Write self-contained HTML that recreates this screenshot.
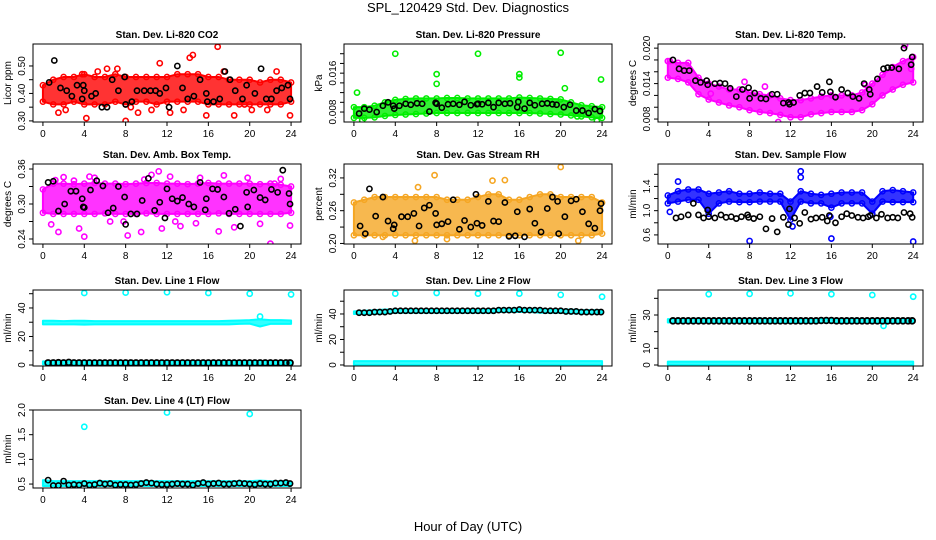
<!DOCTYPE html>
<html><head><meta charset="utf-8"><style>
body{margin:0;background:#fff;}
svg{display:block;font-family:"Liberation Sans",sans-serif;}
</style></head><body>
<svg id="chart" width="936" height="540" xmlns="http://www.w3.org/2000/svg">
<rect width="936" height="540" fill="#fff"/>
<text x="468" y="12" text-anchor="middle" font-size="13">SPL_120429  Std. Dev. Diagnostics</text>
<text x="468" y="531" text-anchor="middle" font-size="13">Hour of Day (UTC)</text>
</svg>
<script>
// ---------- data ----------
const hours = [0,1,2,3,4,5,6,7,8,9,10,11,12,13,14,15,16,17,18,19,20,21,22,23,24];
const xTicks = [0,4,8,12,16,20,24];

// CO2
const co2Lo = [0.37,0.36,0.36,0.37,0.36,0.36,0.36,0.37,0.36,0.37,0.37,0.36,0.37,0.37,0.37,0.37,0.36,0.36,0.36,0.36,0.36,0.36,0.36,0.36,0.37];
const co2Hi = [0.43,0.45,0.46,0.46,0.47,0.46,0.46,0.47,0.46,0.46,0.46,0.46,0.46,0.47,0.47,0.47,0.46,0.46,0.45,0.45,0.45,0.44,0.45,0.45,0.44];
const co2OutT = [1.5,2.2,3.8,4.2,5.3,6.2,7.2,8,8.5,9.2,10.5,11.3,12.3,13.6,14.2,14.5,15.8,16.9,17.5,18.5,19.5,20.2,21.7,22.6,23.9];
const co2OutV = [0.33,0.34,0.47,0.31,0.48,0.49,0.49,0.30,0.35,0.33,0.34,0.51,0.33,0.34,0.53,0.54,0.32,0.57,0.48,0.32,0.36,0.34,0.34,0.48,0.32];
const co2BlkT = [0.6,1.1,1.7,2.3,2.8,3.3,3.8,3.9,4.0,4.7,5.1,5.7,6.2,6.7,7.3,7.9,8.0,8.6,9.1,9.8,10.4,10.9,11.3,11.9,12.2,13.0,13.5,14.0,14.6,15.2,15.8,15.9,16.5,17.1,17.6,18.1,18.6,19.3,19.7,20.5,21.1,21.6,22.1,22.6,23.1,23.7,23.9];
const co2BlkV = [0.44,0.52,0.42,0.41,0.39,0.43,0.38,0.43,0.41,0.39,0.40,0.35,0.35,0.45,0.41,0.46,0.36,0.37,0.41,0.41,0.41,0.41,0.40,0.42,0.35,0.50,0.42,0.38,0.39,0.45,0.40,0.37,0.37,0.38,0.48,0.45,0.41,0.38,0.43,0.40,0.49,0.38,0.38,0.41,0.42,0.43,0.38];
const co2Ticks = [0.30,0.35,0.40,0.45,0.50];
const co2Labels = ["0.30","","0.40","","0.50"];

// Pressure
const prLo = [0.0068,0.0068,0.0069,0.0072,0.0074,0.0075,0.0076,0.0077,0.0078,0.0078,0.0078,0.0078,0.0078,0.0078,0.0078,0.0078,0.0078,0.0078,0.0077,0.0076,0.0075,0.0073,0.0071,0.0069,0.0068];
const prHi = [0.0090,0.0090,0.0093,0.0100,0.0105,0.0107,0.0108,0.0108,0.0108,0.0109,0.0109,0.0108,0.0108,0.0108,0.0108,0.0108,0.0110,0.0109,0.0108,0.0107,0.0106,0.0100,0.0094,0.0092,0.0090];
const prOutT = [0.3,4.0,8.0,8.0,12.0,16.0,16.0,20.0,20.4,23.9,0.8,23.5,21.6];
const prOutV = [0.0120,0.0200,0.0158,0.0138,0.0200,0.0158,0.0151,0.0202,0.0129,0.0147,0.0063,0.0062,0.0071];
const prBlkT = [0.5,1.0,1.5,2.2,2.8,3.3,3.8,3.9,4.4,5.0,5.5,6.1,6.6,7.3,7.9,8.0,8.5,9.1,9.6,10.2,10.7,11.3,11.9,12.0,12.4,13.0,13.5,14.0,14.6,15.1,15.8,15.9,16.5,17.0,17.5,18.2,18.7,19.2,19.6,20.3,20.9,21.5,22.1,22.7,23.3,23.8];
const prBlkV = [0.0077,0.0087,0.0085,0.0080,0.0093,0.0100,0.0093,0.0087,0.0093,0.0097,0.0095,0.0098,0.0097,0.0081,0.0099,0.0097,0.0089,0.0096,0.0097,0.0095,0.0101,0.0094,0.0096,0.0097,0.0096,0.0099,0.0090,0.0099,0.0097,0.0098,0.0090,0.0101,0.0087,0.0099,0.0094,0.0097,0.0098,0.0096,0.0095,0.0090,0.0095,0.0083,0.0083,0.0078,0.0086,0.0082];
const prTicks = [0.008,0.010,0.012,0.014,0.016,0.018,0.020];
const prLabels = ["0.008","","","","0.016","",""];

// Li-820 Temp
const ltLo = [0.0150,0.0148,0.0142,0.0122,0.0113,0.0108,0.0103,0.0100,0.0095,0.0092,0.0090,0.0087,0.0083,0.0083,0.0088,0.0090,0.0092,0.0092,0.0092,0.0095,0.0105,0.0120,0.0130,0.0138,0.0142];
const ltHi = [0.0178,0.0175,0.0175,0.0150,0.0140,0.0135,0.0130,0.0130,0.0125,0.0122,0.0120,0.0115,0.0112,0.0112,0.0115,0.0118,0.0120,0.0120,0.0120,0.0125,0.0140,0.0155,0.0168,0.0178,0.0185];
const ltOutT = [10.8,4.2,7.5,9.5,13,19.3,23.2,23.8,0.2];
const ltOutV = [0.0075,0.0123,0.0143,0.0135,0.0112,0.0138,0.0205,0.0165,0.0178];
const ltBlkT = [0.5,1.1,1.6,2.1,2.7,3.2,3.8,3.9,4.6,5.1,5.6,6.1,6.7,7.3,7.9,8.0,8.5,9.1,9.6,10.2,10.7,11.3,11.8,11.9,12.3,12.9,13.4,13.9,14.6,15.1,15.8,15.9,16.4,17.0,17.6,18.1,18.7,19.2,19.7,19.8,20.5,21.1,21.5,21.9,22.6,23.1,23.8,23.9];
const ltBlkV = [0.0180,0.0165,0.0162,0.0162,0.0145,0.0142,0.0145,0.0138,0.0140,0.0141,0.0140,0.0132,0.0118,0.0130,0.0133,0.0115,0.0124,0.0115,0.0114,0.0122,0.0122,0.0107,0.0108,0.0105,0.0108,0.0120,0.0124,0.0124,0.0135,0.0125,0.0143,0.0126,0.0117,0.0130,0.0124,0.0118,0.0115,0.0140,0.0130,0.0122,0.0148,0.0165,0.0167,0.0167,0.0165,0.0200,0.0172,0.0185];
const ltTicks = [0.008,0.010,0.012,0.014,0.016,0.018,0.020];
const ltLabels = ["0.008","","","0.014","","","0.020"];

// Amb box temp
const abLo = [0.285,0.283,0.283,0.283,0.283,0.283,0.284,0.283,0.283,0.283,0.284,0.283,0.283,0.283,0.283,0.283,0.283,0.284,0.283,0.283,0.283,0.283,0.283,0.283,0.285];
const abHi = [0.325,0.335,0.335,0.334,0.335,0.336,0.335,0.335,0.334,0.335,0.336,0.336,0.335,0.335,0.334,0.335,0.336,0.335,0.335,0.335,0.335,0.334,0.335,0.333,0.330];
const abOutT = [0.8,1.5,2.0,3.5,4.0,4.5,5.0,6.5,7.8,8.2,9.5,10.5,11.2,11.5,12.3,13.3,14.8,15.2,17.0,17.5,18.5,19.8,21.0,22.0,22.4,23.0,23.9,1.2,3.0,9.8,12.8];
const abOutV = [0.265,0.252,0.346,0.258,0.244,0.347,0.345,0.270,0.270,0.246,0.252,0.350,0.356,0.258,0.347,0.262,0.267,0.345,0.253,0.349,0.260,0.345,0.266,0.232,0.335,0.343,0.263,0.341,0.340,0.342,0.270];
const abBlkT = [0.5,1.0,1.5,2.1,2.7,3.2,3.8,3.9,4.0,4.6,5.2,5.8,6.3,6.8,7.3,7.9,8.0,8.5,9.1,9.6,10.2,10.8,11.3,11.8,12.0,12.5,13.0,13.5,14.1,14.6,15.2,15.7,15.8,16.4,16.9,17.5,18.0,18.6,19.1,19.7,19.8,20.4,21.0,21.5,22.1,22.7,23.2,23.8,23.9];
const abBlkV = [0.337,0.339,0.288,0.300,0.322,0.322,0.309,0.295,0.294,0.324,0.340,0.331,0.285,0.293,0.330,0.312,0.265,0.283,0.283,0.306,0.344,0.289,0.303,0.276,0.326,0.309,0.305,0.311,0.300,0.295,0.337,0.290,0.309,0.326,0.325,0.312,0.284,0.291,0.262,0.320,0.295,0.324,0.311,0.307,0.325,0.320,0.358,0.318,0.300];
const abTicks = [0.24,0.27,0.30,0.33,0.36];
const abLabels = ["0.24","","0.30","","0.36"];

// Gas stream RH
const rhLo = [0.215,0.215,0.215,0.215,0.215,0.215,0.215,0.215,0.215,0.215,0.215,0.215,0.215,0.215,0.215,0.215,0.215,0.215,0.215,0.215,0.215,0.215,0.215,0.215,0.218];
const rhHi = [0.275,0.280,0.285,0.285,0.285,0.285,0.285,0.285,0.285,0.280,0.280,0.280,0.285,0.290,0.290,0.280,0.280,0.285,0.290,0.290,0.285,0.285,0.285,0.285,0.275];
const rhOutT = [5.9,7.8,6.2,13.4,14.6,20.0,21.7,9.0,2.8];
const rhOutV = [0.205,0.325,0.303,0.315,0.316,0.340,0.205,0.208,0.212];
const rhBlkT = [0.6,1.1,1.5,2.1,2.8,3.3,3.8,3.9,4.6,5.2,5.8,6.3,6.8,7.3,7.9,8.0,8.5,9.1,9.6,10.2,10.7,11.3,11.8,11.9,12.4,13.0,13.5,14.0,14.6,15.0,15.6,15.8,16.5,17.0,17.5,18.1,18.7,19.2,19.7,19.8,20.4,21.0,21.5,22.1,22.7,23.3,23.8,23.9];
const rhBlkV = [0.232,0.218,0.300,0.250,0.285,0.241,0.227,0.234,0.249,0.249,0.255,0.232,0.265,0.270,0.255,0.234,0.236,0.240,0.280,0.226,0.242,0.230,0.290,0.237,0.233,0.277,0.241,0.240,0.275,0.213,0.214,0.258,0.212,0.263,0.237,0.221,0.264,0.285,0.277,0.218,0.249,0.278,0.281,0.258,0.236,0.228,0.260,0.273];
const rhTicks = [0.20,0.23,0.26,0.29,0.32];
const rhLabels = ["0.20","","0.26","","0.32"];

// Sample flow
const sfLo = [1.12,1.15,1.18,1.18,0.95,1.12,1.15,1.14,1.14,1.15,1.15,1.15,0.85,1.15,1.12,1.12,1.05,1.12,1.12,1.12,0.95,1.15,1.14,1.14,1.14];
const sfHi = [1.25,1.32,1.35,1.35,1.28,1.30,1.32,1.28,1.28,1.30,1.28,1.28,1.15,1.32,1.28,1.26,1.28,1.30,1.30,1.30,1.15,1.32,1.34,1.32,1.30];
const sfOutT = [8,16,24,13,13,12.2,1.0,0.2,15.9];
const sfOutV = [0.50,0.54,0.49,1.65,1.55,0.74,1.48,0.98,0.90];
const sfBlkT = [0.8,1.3,2.0,2.5,3.0,3.5,3.9,4.0,4.6,5.2,5.7,6.2,6.7,7.2,7.8,7.9,8.4,9.0,9.6,10.2,10.7,11.3,11.8,11.9,12.4,12.9,13.4,14.0,14.5,15.1,15.6,15.8,16.4,17.0,17.5,18.0,18.6,19.1,19.6,19.8,20.4,20.9,21.5,22.0,22.5,23.1,23.7,23.9];
const sfBlkV = [0.88,0.90,0.93,1.12,0.93,0.88,1.01,0.90,0.88,0.93,0.89,0.90,0.87,0.90,0.93,0.89,0.87,0.90,0.70,0.87,0.65,0.89,0.77,1.03,0.88,0.79,0.97,0.86,0.88,0.89,0.83,0.92,0.80,0.90,0.95,0.92,0.89,0.88,0.90,0.92,0.88,0.94,0.88,0.89,0.88,0.97,0.95,0.89];
const sfTicks = [0.6,0.8,1.0,1.2,1.4,1.6];
const sfLabels = ["0.6","","1.0","","1.4",""];

const halfHours = [0.5,1,1.5,2,2.5,3,3.5,4,4.5,5,5.5,6,6.5,7,7.5,8,8.5,9,9.5,10,10.5,11,11.5,12,12.5,13,13.5,14,14.5,15,15.5,16,16.5,17,17.5,18,18.5,19,19.5,20,20.5,21,21.5,22,22.5,23,23.5,23.9];

const l1Lo = [28.5,28.5,28.5,28.5,28.3,28.5,28.5,28.5,28.5,28.5,28.5,28.5,28.5,28.5,28.5,28.5,28.5,28.5,28.5,28.8,29,27,28.8,28.8,28.8];
const l1Hi = [31,31,30.8,31,31,30.8,30.8,30.8,30.8,30.8,30.8,30.8,30.8,30.8,30.8,30.8,30.8,30.8,31,31.2,31.5,32,31.5,31.5,31.2];
const l1BaseLo = [0.5,0.5,0.5,0.5,0.5,0.5,0.5,0.5,0.5,0.5,0.5,0.5,0.5,0.5,0.5,0.5,0.5,0.5,0.5,0.5,0.5,0.5,0.5,0.5,0.5];
const l1BaseHi = [2.5,2.5,2.5,2.5,2.5,2.5,2.5,2.5,2.5,2.5,2.5,2.5,2.5,2.5,2.5,2.5,2.5,2.5,2.5,2.5,2.5,2.5,2.5,2.5,2.5];
const l1OutT = [4,8,12,16,20,24,21];
const l1OutV = [50.5,50.8,51,50.5,50,49.5,34];
const l1BlkV = [1.5,1.5,1.6,1.5,1.8,1.5,1.5,1.5,1.5,1.5,1.5,1.5,1.5,1.5,1.5,1.5,1.5,1.5,1.5,1.5,1.5,1.5,1.5,1.5,1.5,1.5,1.5,1.5,1.5,1.5,1.5,1.5,1.5,1.5,1.5,1.5,1.5,1.5,1.5,1.5,1.5,1.5,1.5,1.5,1.5,1.5,1.5,1.5];
const l1Ticks = [0,10,20,30,40,50];
const l1Labels = ["0","","20","","40",""];

const l2Lo = [40,40,40,40.5,41,41,41,41,41,41,41,41,41,41,41.5,41.5,41.5,41.5,41,41,41,40.5,40.5,40.5,40.5];
const l2Hi = [42,42.5,43,43.5,43.5,43.5,43.5,43.5,43.5,43.5,43.5,43.5,43.5,43.5,44,44,44,44,44,43.5,43.5,43.5,43,43,43];
const l2BaseLo = [0,0,0,0,0,0,0,0,0,0,0,0,0,0,0,0,0,0,0,0,0,0,0,0,0];
const l2BaseHi = [3,3,3,3,3,3,3,3,3,3,3,3,3,3,3,3,3,3,3,3,3,3,3,3,3];
const l2OutT = [4,8,12,16,20,24];
const l2OutV = [56,56.5,56,56,55,53.5];
const l2BlkV = [41,41,41,41.5,41.5,41.5,42,42.5,42.5,42.5,42.5,42.5,42.5,42.5,42.5,42.5,42.5,42.5,42.5,42.5,42.5,42.5,42.5,42.5,42.5,42.5,42.5,43,43,43,43,43.5,43,43,43,43,42.5,42.5,42.5,42.5,42,42,42,41.5,41.5,41.5,41.5,41.5];
const l2Ticks = [0,10,20,30,40,50];
const l2Labels = ["0","","20","","40",""];

const l3Lo = [25.5,25.5,25.5,25.5,25.5,25.5,25.5,25.5,25.5,25.5,25.5,25.5,25.5,25.5,25.5,25.5,25.5,25.5,25.5,25.5,25.5,25.5,25.5,25.5,25.5];
const l3Hi = [27.5,27.5,27.5,27.8,27.5,27.5,27.5,27.5,27.5,27.8,27.5,27.5,27.5,27.5,27.5,27.5,27.5,27.5,27.8,27.5,27.5,27.5,27.5,27.5,27.5];
const l3BaseLo = [0,0,0,0,0,0,0,0,0,0,0,0,0,0,0,0,0,0,0,0,0,0,0,0,0];
const l3BaseHi = [2,2,2,2,2,2,2,2,2,2,2,2,2,2,2,2,2,2,2,2,2,2,2,2,2];
const l3OutT = [4,8,12,16,20,24,21.1];
const l3OutV = [42.5,42.7,43,42.5,42,41,23.5];
const l3BlkV = [26.5,26.5,26.5,26.5,26.5,26.5,26.5,26.5,26.5,26.5,26.5,26.5,26.5,26.5,26.5,26.5,26.5,26.5,26.5,26.5,26.5,26.5,26.5,26.5,26.5,26.5,26.5,26.5,26.5,26.7,26.7,26.7,26.5,26.5,26.5,26.5,26.5,26.5,26.5,26.5,26.5,26.5,26.5,26.5,26.5,26.5,26.5,26.5];
const l3Ticks = [0,10,20,30,40];
const l3Labels = ["0","10","","30",""];

const l4Lo = [0.46,0.46,0.46,0.46,0.46,0.46,0.46,0.46,0.46,0.46,0.46,0.46,0.46,0.46,0.46,0.46,0.46,0.46,0.46,0.46,0.46,0.46,0.46,0.46,0.46];
const l4Hi = [0.58,0.56,0.56,0.56,0.56,0.56,0.56,0.56,0.56,0.56,0.56,0.56,0.56,0.56,0.56,0.56,0.56,0.56,0.56,0.56,0.56,0.57,0.56,0.56,0.55];
const l4OutT = [4,12,20];
const l4OutV = [1.66,1.95,1.92];
const l4BlkV = [0.58,0.47,0.47,0.56,0.48,0.49,0.48,0.51,0.48,0.49,0.52,0.50,0.51,0.48,0.49,0.49,0.48,0.49,0.51,0.53,0.52,0.50,0.49,0.49,0.50,0.51,0.50,0.50,0.48,0.51,0.53,0.50,0.51,0.52,0.50,0.50,0.51,0.52,0.51,0.50,0.49,0.51,0.50,0.50,0.52,0.52,0.53,0.51];
const l4Ticks = [0.5,1.0,1.5,2.0];
const l4Labels = ["0.5","1.0","1.5","2.0"];

// ---------- drawing ----------
const NS = "http://www.w3.org/2000/svg";
const svg = document.getElementById("chart");
function mk(tag, attrs, parent) {
  const e = document.createElementNS(NS, tag);
  for (const k in attrs) e.setAttribute(k, attrs[k]);
  (parent || svg).appendChild(e);
  return e;
}

function panel(cfg) {
  const g = mk("g", {});
  
  
  const L = cfg.x0, R = cfg.x1, T = cfg.y0, B = cfg.y1;
  const xmin = -0.96, xmax = 24.96;
  const xs = v => L + (v - xmin) / (xmax - xmin) * (R - L);
  const ys = v => B - (v - cfg.ymin) / (cfg.ymax - cfg.ymin) * (B - T);

  const clip = "clip-" + cfg.name;
  const cp = mk("clipPath", {id: clip}, g);
  mk("rect", {x: L, y: T, width: R - L, height: B - T}, cp);
  const plot = mk("g", {"clip-path": "url(#" + clip + ")"}, g);

  (cfg.bands || []).forEach(b => {
    let pts = [];
    hours.forEach((h, i) => pts.push(xs(h) + "," + ys(b.hi[i])));
    for (let i = hours.length - 1; i >= 0; i--) pts.push(xs(hours[i]) + "," + ys(b.lo[i]));
    const poly = mk("polygon", {points: pts.join(" "), fill: cfg.color, "fill-opacity": 0.8, stroke: cfg.color, "stroke-width": 2, "stroke-linejoin": "round"}, plot);
    
    
    if (cfg.edges) {
      hours.forEach((h, i) => {
        [b.lo[i], b.hi[i]].forEach(v => {
          const c = mk("circle", {cx: xs(h), cy: ys(v), r: 2.6, fill: "none", stroke: cfg.color, "stroke-width": 1.5}, plot);
          
          
        });
      });
    }
  });
  cfg.outT.forEach((t, i) => {
    const c = mk("circle", {cx: xs(t), cy: ys(cfg.outV[i]), r: 2.6, fill: "none", stroke: cfg.color, "stroke-width": 1.6}, plot);
    
    
  });
  cfg.blkT.forEach((t, i) => {
    const c = mk("circle", {cx: xs(t), cy: ys(cfg.blkV[i]), r: cfg.br || 2.6, fill: "none", stroke: "#000", "stroke-width": cfg.bw || 1.6}, plot);
    
    
  });

  const box = mk("rect", {x: L, y: T, width: R - L, height: B - T, fill: "none", stroke: "#000", "stroke-width": 1}, g);
  
  

  const xa = mk("g", {}, g);
  
  
  mk("line", {x1: xs(xTicks[0]), x2: xs(xTicks[xTicks.length - 1]), y1: B, y2: B, stroke: "#000"}, xa);
  xTicks.forEach(t => {
    mk("line", {x1: xs(t), x2: xs(t), y1: B, y2: B + 4, stroke: "#000"}, xa);
    const tx = mk("text", {x: xs(t), y: B + 15, "text-anchor": "middle", "font-size": 10}, xa);
    tx.textContent = t;
  });
  const ya = mk("g", {}, g);
  
  
  const yt = cfg.yTicks.filter(v => v >= cfg.ymin - 1e-9 && v <= cfg.ymax + 1e-9);
  mk("line", {x1: L, x2: L, y1: ys(yt[0]), y2: ys(yt[yt.length - 1]), stroke: "#000"}, ya);
  cfg.yTicks.forEach((v, i) => {
    if (v < cfg.ymin - 1e-9 || v > cfg.ymax + 1e-9) return;
    mk("line", {x1: L - 4, x2: L, y1: ys(v), y2: ys(v), stroke: "#000"}, ya);
    if (cfg.yLabels[i]) {
      const tx = mk("text", {x: L - 8, y: ys(v), "text-anchor": "middle", "font-size": 10, transform: "rotate(-90 " + (L - 8) + " " + ys(v) + ")"}, ya);
      tx.textContent = cfg.yLabels[i];
    }
  });
  const yl = mk("text", {x: L - 22, y: (T + B) / 2, "text-anchor": "middle", "font-size": 10, transform: "rotate(-90 " + (L - 22) + " " + (T + B) / 2 + ")"}, g);
  yl.textContent = cfg.ylab;
  
  
  const ti = mk("text", {x: (L + R) / 2, y: T - 6, "text-anchor": "middle", "font-size": 10, "font-weight": "bold"}, g);
  ti.textContent = cfg.title;
  
  
}

const C1 = [33, 301], C2 = [344, 612], C3 = [658, 923];
const R1 = [44, 122], R2 = [164, 244], R3 = [290, 366], R4 = [410, 488];

panel({name: "co2-panel", title: "Stan. Dev. Li-820 CO2", ylab: "Licor ppm", x0: C1[0], x1: C1[1], y0: R1[0], y1: R1[1], ymin: 0.296, ymax: 0.58, color: "#ff0000", edges: true,
  bands: [{lo: co2Lo, hi: co2Hi}], outT: co2OutT, outV: co2OutV, blkT: co2BlkT, blkV: co2BlkV, yTicks: co2Ticks, yLabels: co2Labels});
panel({name: "pressure-panel", title: "Stan. Dev. Li-820 Pressure", ylab: "kPa", x0: C2[0], x1: C2[1], y0: R1[0], y1: R1[1], ymin: 0.00595, ymax: 0.022, color: "#00ee00", edges: true,
  bands: [{lo: prLo, hi: prHi}], outT: prOutT, outV: prOutV, blkT: prBlkT, blkV: prBlkV, yTicks: prTicks, yLabels: prLabels});
panel({name: "li820-temp-panel", title: "Stan. Dev. Li-820 Temp.", ylab: "degrees C", x0: C3[0], x1: C3[1], y0: R1[0], y1: R1[1], ymin: 0.0075, ymax: 0.0207, color: "#ff00ff", edges: true,
  bands: [{lo: ltLo, hi: ltHi}], outT: ltOutT, outV: ltOutV, blkT: ltBlkT, blkV: ltBlkV, yTicks: ltTicks, yLabels: ltLabels});
panel({name: "amb-box-temp-panel", title: "Stan. Dev. Amb. Box Temp.", ylab: "degrees C", x0: C1[0], x1: C1[1], y0: R2[0], y1: R2[1], ymin: 0.2314, ymax: 0.3686, color: "#ff00ff", edges: true,
  bands: [{lo: abLo, hi: abHi}], outT: abOutT, outV: abOutV, blkT: abBlkT, blkV: abBlkV, yTicks: abTicks, yLabels: abLabels});
panel({name: "gas-rh-panel", title: "Stan. Dev. Gas Stream RH", ylab: "percent", x0: C2[0], x1: C2[1], y0: R2[0], y1: R2[1], ymin: 0.199, ymax: 0.3455, color: "#f5a623", edges: true,
  bands: [{lo: rhLo, hi: rhHi}], outT: rhOutT, outV: rhOutV, blkT: rhBlkT, blkV: rhBlkV, yTicks: rhTicks, yLabels: rhLabels});
panel({name: "sample-flow-panel", title: "Stan. Dev. Sample Flow", ylab: "ml/min", x0: C3[0], x1: C3[1], y0: R2[0], y1: R2[1], ymin: 0.45, ymax: 1.77, color: "#0000ff", edges: true,
  bands: [{lo: sfLo, hi: sfHi}], outT: sfOutT, outV: sfOutV, blkT: sfBlkT, blkV: sfBlkV, yTicks: sfTicks, yLabels: sfLabels});
panel({name: "line1-flow-panel", title: "Stan. Dev. Line 1 Flow", ylab: "ml/min", x0: C1[0], x1: C1[1], y0: R3[0], y1: R3[1], ymin: -0.7, ymax: 52.6, color: "#00ffff", br: 2.9, bw: 1.8,
  bands: [{lo: l1Lo, hi: l1Hi}, {lo: l1BaseLo, hi: l1BaseHi}], outT: l1OutT, outV: l1OutV, blkT: halfHours, blkV: l1BlkV, yTicks: l1Ticks, yLabels: l1Labels});
panel({name: "line2-flow-panel", title: "Stan. Dev. Line 2 Flow", ylab: "ml/min", x0: C2[0], x1: C2[1], y0: R3[0], y1: R3[1], ymin: -0.8, ymax: 58.8, color: "#00ffff",
  bands: [{lo: l2Lo, hi: l2Hi}, {lo: l2BaseLo, hi: l2BaseHi}], outT: l2OutT, outV: l2OutV, blkT: halfHours, blkV: l2BlkV, yTicks: l2Ticks, yLabels: l2Labels});
panel({name: "line3-flow-panel", title: "Stan. Dev. Line 3 Flow", ylab: "ml/min", x0: C3[0], x1: C3[1], y0: R3[0], y1: R3[1], ymin: -0.6, ymax: 45, color: "#00ffff", br: 2.9, bw: 1.8,
  bands: [{lo: l3Lo, hi: l3Hi}, {lo: l3BaseLo, hi: l3BaseHi}], outT: l3OutT, outV: l3OutV, blkT: halfHours, blkV: l3BlkV, yTicks: l3Ticks, yLabels: l3Labels});
panel({name: "line4-flow-panel", title: "Stan. Dev. Line 4 (LT) Flow", ylab: "ml/min", x0: C1[0], x1: C1[1], y0: R4[0], y1: R4[1], ymin: 0.42, ymax: 2.0, color: "#00ffff",
  bands: [{lo: l4Lo, hi: l4Hi}], outT: l4OutT, outV: l4OutV, blkT: halfHours, blkV: l4BlkV, yTicks: l4Ticks, yLabels: l4Labels});
</script>
</body></html>
